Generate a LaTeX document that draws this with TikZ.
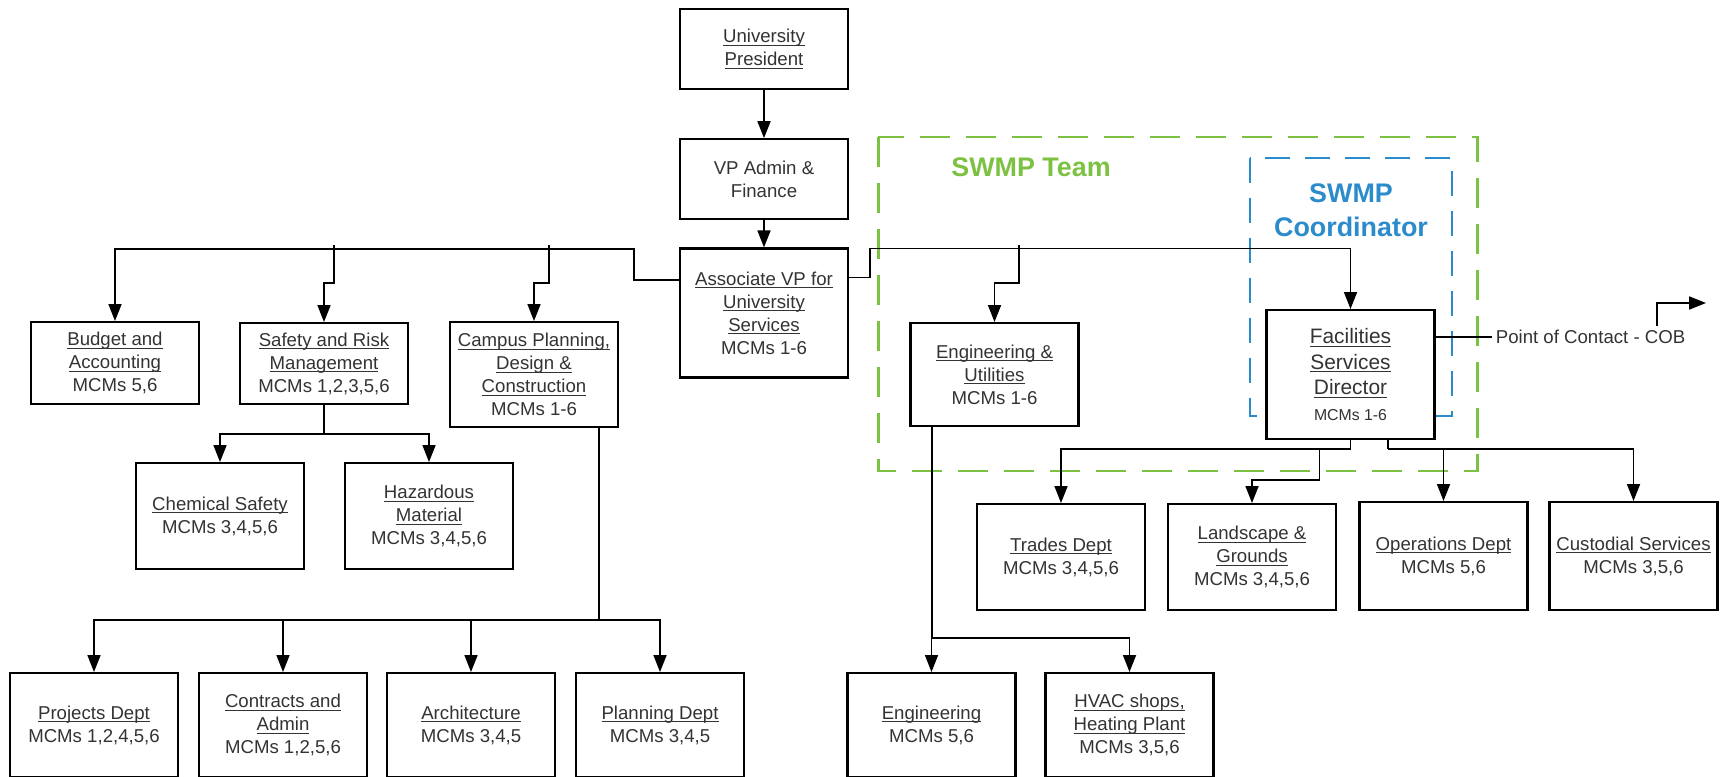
\documentclass[tikz,border=0pt]{standalone}
\usepackage{fontspec}
\setmainfont{Liberation Sans}
\usepackage{xcolor}
\usetikzlibrary{arrows.meta, positioning, calc}
\definecolor{teamgreen}{HTML}{7DC142}
\definecolor{coordblue}{HTML}{2B8BCB}
\definecolor{textgray}{HTML}{333333}
\newcommand{\lnk}[1]{\underline{\raisebox{0pt}[\height][0pt]{#1}}}
\tikzset{
	orgbox/.style={rectangle, draw, line width=1.3pt, fill=white, minimum width=3.36cm, minimum height=1.6cm, align=center, text=textgray, inner sep=2pt, font=\fontsize{10.6}{13.1}\selectfont},
	link/.style={draw, line width=1pt},
	arrow/.style={link, -{Triangle[length=3.4mm, width=2.6mm]}}
}

\begin{document}
\begin{tikzpicture}[
	x=0.02cm, y=-0.02cm, % one unit = one pixel of the layout
	midbox/.style={orgbox, minimum height=2.08cm},
	tallbox/.style={orgbox, minimum height=2.58cm},
	teamlabel/.style={font=\bfseries\fontsize{15.3}{19.3}\selectfont, align=center}
	]
	\useasboundingbox (0,0) rectangle (1722,777);
	
	% --- SWMP outlines, drawn first so the boxes sit on top ---
	\draw[teamgreen, line width=1.7pt, dash pattern=on 0.6cm off 0.32cm] (878,137) rectangle (1477,471);
	\draw[coordblue, line width=1.5pt, dash pattern=on 0.5cm off 0.3cm] (1250,158) rectangle (1452,416);
	\node[teamlabel, text=teamgreen] (team_label) at (1031,167) {SWMP Team};
	\node[teamlabel, text=coordblue] (coord_label) at (1351,210) {SWMP\\Coordinator};
	
	% --- Top of the chain ---
	\node[orgbox] (president) at (764,49) {\lnk{University}\\\lnk{President}};
	\node[orgbox, below=0.96cm of president] (vp_admin) {VP Admin \&\\Finance};
	\node[tallbox, below=0.54cm of vp_admin] (assoc_vp) {\lnk{Associate VP for}\\\lnk{University}\\\lnk{Services}\\MCMs 1-6};
	\coordinate (top_bus) at (0,245);
	
	\draw[arrow] (president) -- (vp_admin);
	\draw[arrow] (vp_admin) -- (assoc_vp);
	
	% --- Left branch ---
	\node[orgbox, minimum height=1.64cm, anchor=north] (budget) at (115,321) {\lnk{Budget and}\\\lnk{Accounting}\\MCMs 5,6};
	\node[orgbox, minimum height=1.62cm, anchor=north] (safety) at (324,322) {\lnk{Safety and Risk}\\\lnk{Management}\\MCMs 1,2,3,5,6};
	\node[midbox, minimum height=2.1cm, anchor=north] (campus) at (534,321) {\lnk{Campus Planning,}\\\lnk{Design \&}\\\lnk{Construction}\\MCMs 1-6};
	
	\node[midbox, minimum height=2.12cm, anchor=north] (chem) at (220,462) {\lnk{Chemical Safety}\\MCMs 3,4,5,6};
	\node[midbox, minimum height=2.12cm, anchor=north] (hazard) at (429,462) {\lnk{Hazardous}\\\lnk{Material}\\MCMs 3,4,5,6};
	
	\node[midbox, anchor=north] (projects) at (94,672) {\lnk{Projects Dept}\\MCMs 1,2,4,5,6};
	\node[midbox, anchor=north] (contracts) at (283,672) {\lnk{Contracts and}\\\lnk{Admin}\\MCMs 1,2,5,6};
	\node[midbox, anchor=north] (architecture) at (471,672) {\lnk{Architecture}\\MCMs 3,4,5};
	\node[midbox, anchor=north] (planning) at (660,672) {\lnk{Planning Dept}\\MCMs 3,4,5};
	
	% Arrows for the left branch
	\draw[arrow] ($(assoc_vp.north west)!0.25!(assoc_vp.south west)$) -| ++(-45,-31) -| (budget.north);
	\draw[arrow] ($(safety.north |- top_bus)+(10,0)$) |- ++(-10,38) -- (safety.north);
	\draw[arrow] ($(campus.north |- top_bus)+(15,0)$) |- ++(-15,38) -- (campus.north);
	
	\draw[link] (safety.south) -- ++(0,29) coordinate (safety_bus);
	\draw[arrow] (safety_bus) -| (chem.north);
	\draw[arrow] (safety_bus) -| (hazard.north);
	
	\draw[link] ($(campus.south)+(65,0)$) -- ++(0,192) coordinate (campus_bus);
	\foreach \dept in {projects, contracts, architecture, planning}
		\draw[arrow] (campus_bus) -| (\dept.north);
	
	% --- Right branch: SWMP team ---
	\node[midbox, minimum height=2.06cm, anchor=north] (eng_util) at (994.5,322) {\lnk{Engineering \&}\\\lnk{Utilities}\\MCMs 1-6};
	\node[tallbox, anchor=north, font=\fontsize{11.9}{14.5}\selectfont] (facilities) at (1350.5,309) {\lnk{Facilities}\\\lnk{Services}\\\lnk{Director}\\{\fontsize{9}{11}\selectfont MCMs 1-6}};
	\node[text=textgray, anchor=west, inner sep=2pt, font=\fontsize{10.6}{13.1}\selectfont] (poc) at (1492,337) {Point of Contact - COB};
	\coordinate (poc_out) at (1706,303);
	
	\node[midbox, minimum height=2.12cm, anchor=north] (trades) at (1061,503) {\lnk{Trades Dept}\\MCMs 3,4,5,6};
	\node[midbox, minimum height=2.12cm, anchor=north] (landscape) at (1252,503) {\lnk{Landscape \&}\\\lnk{Grounds}\\MCMs 3,4,5,6};
	\node[midbox, minimum height=2.16cm, anchor=north] (operations) at (1443.5,501) {\lnk{Operations Dept}\\MCMs 5,6};
	\node[midbox, minimum height=2.16cm, anchor=north] (custodial) at (1633.5,501) {\lnk{Custodial Services}\\MCMs 3,5,6};
	
	\node[midbox, anchor=north] (engineering) at (931.5,672) {\lnk{Engineering}\\MCMs 5,6};
	\node[midbox, anchor=north] (hvac) at (1129.5,672) {\lnk{HVAC shops,}\\\lnk{Heating Plant}\\MCMs 3,5,6};
	
	% Arrows for the right branch
	\draw[arrow] ($(assoc_vp.north east)!0.23!(assoc_vp.south east)$) -| ++(21,-29) -| (facilities.north);
	\draw[arrow] ($(eng_util.north |- top_bus)+(24.5,0)$) |- ++(-24.5,38) -- (eng_util.north);
	
	\draw[link] (facilities.east |- poc.west) -- (poc.west);
	\draw[arrow] ([xshift=1.33cm]poc.north) |- (poc_out);
	
	\draw[link] (facilities.south) -- ++(0,9) coordinate (fac_left);
	\draw[arrow] (fac_left) -| (trades.north);
	\draw[arrow] ($(fac_left)+(-31,0)$) -- ++(0,31) -| (landscape.north);
	\draw[link] ($(facilities.south)+(37.5,0)$) -- ++(0,9) coordinate (fac_right);
	\draw[arrow] (fac_right) -| (operations.north);
	\draw[arrow] (fac_right) -| (custodial.north);
	
	\draw[link] ($(eng_util.south)+(-62.5,0)$) -- ++(0,211) coordinate (eng_bus);
	\foreach \shop in {engineering, hvac}
		\draw[arrow] (eng_bus) -| (\shop.north);
	
\end{tikzpicture}
\end{document}
